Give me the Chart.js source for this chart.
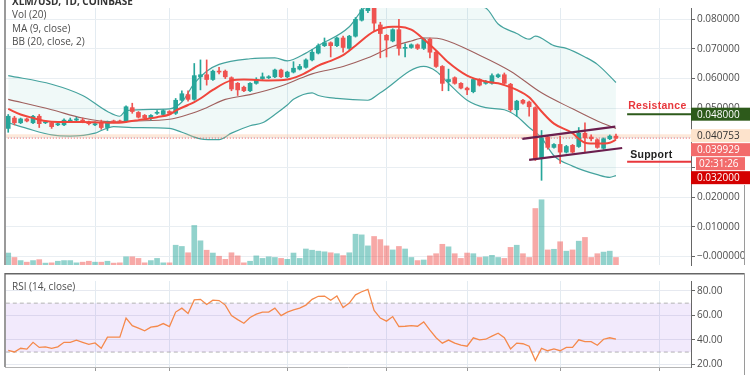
<!DOCTYPE html>
<html>
<head>
<meta charset="utf-8">
<script src="https://cdn.jsdelivr.net/npm/chart.js@4.4.1/dist/chart.umd.min.js"></script>
<style>
  html, body { margin: 0; padding: 0; background: #fff; }
  #wrap { position: relative; width: 750px; height: 375px; overflow: hidden; }
  #priceBox { position: absolute; left: 0; top: 0; }
  #rsiBox { position: absolute; left: 0; top: 273px; }
</style>
</head>
<body>
<div id="wrap">
  <div id="priceBox"><canvas id="price" width="750" height="273"></canvas></div>
  <div id="rsiBox"><canvas id="rsi" width="750" height="102"></canvas></div>
</div>
<script>
// ── XLM/USD 1D · candles, Vol, MA9, BB(20,2), RSI(14) ─────

const opens = [0.0432,0.0467,0.0451,0.0464,0.0451,0.0473,0.0451,0.0451,0.0444,0.0444,
  0.0457,0.0460,0.0460,0.0454,0.0444,0.0451,0.0435,0.0457,0.0457,0.0457,
  0.0502,0.0486,0.0476,0.0467,0.0483,0.0479,0.0489,0.0483,0.0527,0.0546,
  0.0530,0.0606,0.0613,0.0597,0.0625,0.0625,0.0603,0.0584,0.0571,0.0559,
  0.0584,0.0600,0.0603,0.0606,0.0629,0.0606,0.0622,0.0632,0.0638,0.0663,
  0.0686,0.0711,0.0721,0.0711,0.0737,0.0702,0.0743,0.0797,0.0829,0.0844,
  0.0781,0.0746,0.0727,0.0765,0.0702,0.0705,0.0714,0.0702,0.0733,0.0689,
  0.0641,0.0590,0.0603,0.0584,0.0568,0.0556,0.0597,0.0584,0.0584,0.0606,
  0.0613,0.0581,0.0495,0.0527,0.0521,0.0502,0.0330,0.0403,0.0368,0.0378,
  0.0352,0.0375,0.0371,0.0416,0.0403,0.0394,0.0365,0.0397,0.0406];

const highs = [0.0479,0.0473,0.0467,0.0467,0.0476,0.0479,0.0457,0.0454,0.0454,0.0464,
  0.0467,0.0470,0.0467,0.0457,0.0454,0.0460,0.0457,0.0460,0.0460,0.0508,
  0.0517,0.0489,0.0479,0.0479,0.0492,0.0495,0.0492,0.0533,0.0559,0.0559,
  0.0651,0.0663,0.0663,0.0629,0.0638,0.0629,0.0606,0.0587,0.0575,0.0587,
  0.0603,0.0619,0.0610,0.0632,0.0632,0.0625,0.0657,0.0648,0.0667,0.0698,
  0.0717,0.0737,0.0724,0.0740,0.0743,0.0746,0.0806,0.0854,0.0870,0.0863,
  0.0790,0.0749,0.0768,0.0800,0.0717,0.0717,0.0717,0.0737,0.0737,0.0692,
  0.0644,0.0632,0.0606,0.0587,0.0571,0.0600,0.0600,0.0594,0.0616,0.0616,
  0.0619,0.0584,0.0527,0.0530,0.0524,0.0505,0.0425,0.0406,0.0381,0.0406,
  0.0375,0.0378,0.0435,0.0451,0.0410,0.0397,0.0400,0.0410,0.0413];

const lows = [0.0419,0.0444,0.0448,0.0454,0.0448,0.0435,0.0448,0.0432,0.0441,0.0441,
  0.0454,0.0457,0.0451,0.0444,0.0441,0.0429,0.0425,0.0451,0.0451,0.0454,
  0.0483,0.0467,0.0464,0.0460,0.0479,0.0476,0.0479,0.0479,0.0524,0.0524,
  0.0527,0.0562,0.0578,0.0594,0.0616,0.0600,0.0559,0.0543,0.0556,0.0556,
  0.0581,0.0597,0.0600,0.0603,0.0603,0.0603,0.0619,0.0629,0.0635,0.0660,
  0.0683,0.0708,0.0673,0.0708,0.0689,0.0698,0.0740,0.0794,0.0822,0.0759,
  0.0670,0.0673,0.0724,0.0679,0.0673,0.0702,0.0698,0.0698,0.0670,0.0638,
  0.0559,0.0559,0.0581,0.0565,0.0546,0.0552,0.0575,0.0581,0.0581,0.0603,
  0.0581,0.0489,0.0473,0.0514,0.0473,0.0324,0.0257,0.0362,0.0365,0.0314,
  0.0349,0.0349,0.0368,0.0352,0.0390,0.0365,0.0362,0.0394,0.0397];

const closes = [0.0473,0.0451,0.0464,0.0457,0.0473,0.0448,0.0454,0.0438,0.0448,0.0460,
  0.0460,0.0464,0.0457,0.0448,0.0448,0.0435,0.0454,0.0454,0.0454,0.0505,
  0.0489,0.0470,0.0467,0.0476,0.0486,0.0492,0.0483,0.0527,0.0549,0.0530,
  0.0610,0.0613,0.0597,0.0625,0.0622,0.0606,0.0565,0.0562,0.0559,0.0584,
  0.0597,0.0606,0.0606,0.0629,0.0606,0.0622,0.0635,0.0641,0.0663,0.0689,
  0.0711,0.0721,0.0711,0.0737,0.0705,0.0743,0.0800,0.0832,0.0848,0.0787,
  0.0752,0.0730,0.0765,0.0702,0.0705,0.0714,0.0702,0.0733,0.0689,0.0641,
  0.0584,0.0597,0.0584,0.0568,0.0562,0.0597,0.0578,0.0590,0.0610,0.0613,
  0.0584,0.0495,0.0524,0.0517,0.0505,0.0330,0.0400,0.0368,0.0378,0.0352,
  0.0371,0.0352,0.0416,0.0400,0.0397,0.0368,0.0397,0.0406,0.039929];

// volumen (millones)
const volumes = [12.7,8,4.7,3,4.7,5.7,2,2.3,4,4.7,
  4.7,2.3,3,4,3,3,4,2,2.3,8.7,
  8.7,7,2.3,4.7,7,2.3,2.3,21,19.7,13,
  42,25.7,15.7,12.7,9.3,6,13,9.7,2.3,4,
  9.7,7,8.7,8,7,6,12.7,7,17,15.7,
  14.7,14,13,12,10,13,32.7,32,20.3,30.3,
  27,20.3,16,19.7,17,8,4.7,5.3,9.7,12,
  22,19.3,12,7,12.7,12,8,8.7,10.3,8,
  7,18.7,21,12,8,60,69.3,16,16.7,24.7,
  14.7,16,25.3,29.3,8,12,13.7,14.7,8];

// [índice de vela, precio]
const ma9 = [[0,0.0498],[2,0.0479],[4,0.0467],[6,0.0457],[8,0.0454],[12,0.0454],[15,0.0452],
  [17,0.0451],[19,0.0454],[21,0.0460],[24,0.0470],[26,0.0479],[27,0.0492],[29,0.0511],
  [30,0.0521],[31,0.0533],[33,0.0562],[36,0.0594],[38,0.0597],[42,0.0594],[45,0.0597],
  [47,0.0610],[49,0.0632],[50,0.0644],[52,0.0660],[54,0.0679],[56,0.0711],[59,0.0759],
  [62,0.0775],[63,0.0775],[65,0.0765],[67,0.0733],[69,0.0695],[71,0.0654],[74,0.0610],
  [77,0.0590],[79,0.0584],[80,0.0578],[82,0.0562],[84,0.0537],[86,0.0489],[88,0.0448],
  [91,0.0416],[92,0.0397],[93,0.0384],[95,0.0381],[97,0.0384],[98,0.0394]];

const bbUpper = [[0,0.0610],[7,0.0581],[12,0.0543],[16,0.0489],[18,0.0473],[19,0.0492],
  [26,0.0498],[28,0.0521],[30,0.0584],[32,0.0625],[34,0.0648],[39,0.0667],[43,0.0670],
  [45,0.0660],[48,0.0686],[50,0.0711],[55,0.0775],[57,0.0829],[59,0.0863],[63,0.0886],
  [66,0.0876],[70,0.0863],[74,0.0848],[77,0.0838],[79,0.0784],[82,0.0752],[84,0.0733],
  [85,0.0743],[88,0.0711],[90,0.0702],[93,0.0673],[95,0.0648],[98,0.0587]];

const bbBasis = [[0,0.0530],[7,0.0495],[12,0.0467],[17,0.0454],[20,0.0457],[26,0.0463],
  [29,0.0479],[32,0.0502],[35,0.0530],[39,0.0546],[44,0.0575],[47,0.0600],[49,0.0616],
  [54,0.0641],[58,0.0670],[62,0.0708],[65,0.0727],[67,0.0737],[68,0.0737],[70,0.0733],
  [76,0.0679],[81,0.0625],[86,0.0552],[91,0.0498],[95,0.0457],[98,0.0432]];

const bbLower = [[0,0.0451],[3,0.0432],[7,0.0410],[10,0.0406],[14,0.0416],[15,0.0425],
  [17,0.0438],[20,0.0435],[26,0.0432],[28,0.0419],[31,0.0397],[34,0.0394],[36,0.0416],
  [39,0.0441],[41,0.0451],[43,0.0479],[45,0.0511],[46,0.0530],[49,0.0552],[50,0.0543],
  [53,0.0533],[58,0.0527],[60,0.0552],[67,0.0641],[69,0.0625],[71,0.0584],[74,0.0527],
  [77,0.0502],[80,0.0495],[82,0.0473],[84,0.0435],[86,0.0400],[88,0.0340],[91,0.0305],
  [95,0.0276],[97,0.0267],[98,0.0273]];

const rsi = [31.3,30.1,33.1,32.4,38.0,33.8,34.3,33.1,34.3,38.0,
  38.0,39.8,38.0,36.3,37.5,33.1,42.2,42.2,42.2,57.8,
  51.6,49.5,47.4,50.4,51.1,53.3,50.9,62.7,65.9,61.5,
  72.6,73.1,68.9,72.4,72.1,68.4,59.8,56.5,53.6,58.3,
  61.0,62.7,62.7,65.9,59.8,62.7,64.4,65.9,68.4,73.1,
  75.6,75.8,72.4,75.8,66.4,70.1,76.8,79.3,81.3,64.0,
  57.8,55.3,59.0,50.9,51.1,51.6,51.1,54.6,47.9,41.7,
  37.3,39.8,37.3,35.6,34.8,41.7,40.0,40.5,43.0,45.4,
  41.7,32.6,37.3,36.8,34.8,23.2,33.1,31.1,32.6,31.1,
  33.8,33.8,40.0,38.5,38.5,35.6,40.5,41.7,40.5];

// canal dibujado + niveles
const channelUpper = [[82.9,0.0397],[97.9,0.0438]];
const channelLower = [[84.0,0.0326],[99.0,0.0366]];
const levelSpan    = [99.8, 111];
const resistance   = 0.048;
const support      = 0.032;
const markerPrice  = 0.040753;
const countdown    = '02:31:26';

const timeTicks  = [14, 26, 45, 61, 74, 89, 105];
const priceTicks = [0, 0.01, 0.02, 0.03, 0.04, 0.05, 0.06, 0.07, 0.08];
const rsiTicks   = [20, 40, 60, 80];
const rsiBand    = [70, 30];

// ── estilos ─────
const UP = '#26a69a', DOWN = '#ef5350';
const FONT = '"Open Sans", sans-serif';
const X_MIN = -0.52, X_MAX = 110.1;
const AXIS_W = 59;

const pts = arr => arr.map(([x, y]) => ({ x, y }));
const flat = (v) => [{ x: X_MIN - 1, y: v }, { x: X_MAX + 1, y: v }];
const isUp = i => closes[i] >= opens[i];
const lastClose = closes[closes.length - 1];

const xScale = (gridTicks) => ({
  type: 'linear', min: X_MIN, max: X_MAX, offset: false,
  afterBuildTicks: s => { s.ticks = timeTicks.map(v => ({ value: v })); },
  ticks: { display: false },
  grid: { color: '#e3ebf1', offset: false, drawTicks: gridTicks, tickLength: 4, tickColor: '#999' },
  border: { display: gridTicks, color: '#b5b5b5' },
});

function drawFrame(ctx, h) {
  ctx.strokeStyle = '#9a9a9a';
  ctx.lineWidth = 2;
  ctx.beginPath(); ctx.moveTo(5, 0); ctx.lineTo(5, h); ctx.stroke();
}

// ── panel de precio ─────
const priceDecor = {
  id: 'priceDecor',
  afterDraw(chart) {
    const { ctx, chartArea: a, scales: { x, y } } = chart;
    ctx.save();
    drawFrame(ctx, a.bottom);
    ctx.strokeStyle = '#9a9a9a'; ctx.lineWidth = 1;
    ctx.beginPath(); ctx.moveTo(744.5, 185); ctx.lineTo(744.5, a.bottom); ctx.stroke();

    // leyenda
    ctx.textBaseline = 'middle';
    ctx.fillStyle = '#333';
    ctx.font = 'bold 10px ' + FONT;
    ctx.fillText('XLM/USD, 1D, COINBASE', 12, 2);
    ctx.font = '10px ' + FONT;
    ctx.fillStyle = '#4d4d4d';
    ['Vol (20)', 'MA (9, close)', 'BB (20, close, 2)'].forEach((t, k) => ctx.fillText(t, 12, 15.5 + k * 13.5));

    // textos de niveles
    const lx = x.getPixelForValue(levelSpan[0]) + 1;
    ctx.font = 'bold 10.5px "Liberation Sans", sans-serif';
    ctx.letterSpacing = '0.3px';
    ctx.fillStyle = '#e8373c';
    ctx.fillText('Resistance', lx, y.getPixelForValue(resistance) - 8);
    ctx.fillStyle = '#222';
    ctx.fillText('Support', lx + 2, y.getPixelForValue(support) - 7);
    ctx.letterSpacing = '0px';

    // etiquetas del eje
    const boxes = [
      { v: resistance,  bg: '#2d5a1b', fg: '#fff' },
      { v: markerPrice, bg: '#fde3cc', fg: '#333' },
      { v: lastClose,   bg: '#f26b6b', fg: '#fff', sub: countdown },
      { v: support,     bg: '#d40000', fg: '#fff' },
    ];
    const H = 13;
    let prev = -Infinity;
    ctx.font = '10px ' + FONT;
    boxes.forEach(b => {
      const top = Math.max(y.getPixelForValue(b.v) - H / 2, prev + 1);
      ctx.fillStyle = b.bg;
      ctx.fillRect(a.right, top, 750 - a.right, H);
      ctx.fillStyle = b.fg;
      ctx.fillText(b.v.toFixed(6), a.right + 6, top + H / 2 + 0.5);
      prev = top + H;
      if (b.sub) {
        const t2 = prev + 1;
        ctx.fillStyle = b.bg;
        ctx.fillRect(a.right + 5, t2, 49, H);
        ctx.fillStyle = b.fg;
        ctx.fillText(b.sub, a.right + 8, t2 + H / 2 + 0.5);
        prev = t2 + H;
      }
    });
    ctx.restore();
  }
};

new Chart(document.getElementById('price'), {
  type: 'bar',
  data: {
    datasets: [
      { type: 'line', data: pts(bbUpper), borderColor: '#45a39e', borderWidth: 1.2, pointRadius: 0,
        cubicInterpolationMode: 'monotone', fill: '+1', backgroundColor: 'rgba(38,166,154,0.07)', order: 30 },
      { type: 'line', data: pts(bbLower), borderColor: '#45a39e', borderWidth: 1.2, pointRadius: 0,
        cubicInterpolationMode: 'monotone', fill: false, order: 29 },
      { type: 'line', data: pts(bbBasis), borderColor: '#a0605e', borderWidth: 1.1, pointRadius: 0,
        cubicInterpolationMode: 'monotone', fill: false, order: 28 },
      { type: 'bar', data: volumes.map((v, i) => ({ x: i, y: v })), yAxisID: 'yVol', grouped: false,
        barThickness: 5, backgroundColor: volumes.map((v, i) => isUp(i) ? 'rgba(38,166,154,0.5)' : 'rgba(239,83,80,0.5)'),
        order: 27 },
      { type: 'line', data: flat(markerPrice), borderColor: 'rgba(250,190,145,0.35)', borderWidth: 3,
        pointRadius: 0, fill: false, order: 26 },
      { type: 'line', data: flat(lastClose), borderColor: '#ef5350', borderWidth: 1, borderDash: [1, 2],
        pointRadius: 0, fill: false, order: 25 },
      { type: 'bar', data: lows.map((l, i) => ({ x: i, y: [l, highs[i]] })), grouped: false, barThickness: 1,
        backgroundColor: lows.map((l, i) => isUp(i) ? UP : DOWN), order: 20 },
      { type: 'bar', data: opens.map((o, i) => ({ x: i, y: [o, closes[i]] })), grouped: false, barThickness: 4,
        minBarLength: 1, backgroundColor: opens.map((o, i) => isUp(i) ? UP : DOWN), order: 19 },
      { type: 'line', data: pts(ma9), borderColor: '#f0463c', borderWidth: 2, pointRadius: 0,
        cubicInterpolationMode: 'monotone', fill: false, order: 10 },
      { type: 'line', data: pts(channelUpper), borderColor: '#6b1f4e', borderWidth: 2.2, pointRadius: 0, fill: false, order: 5 },
      { type: 'line', data: pts(channelLower), borderColor: '#6b1f4e', borderWidth: 2.2, pointRadius: 0, fill: false, order: 5 },
      { type: 'line', data: levelSpan.map(v => ({ x: v, y: resistance })), borderColor: '#2d5a1b', borderWidth: 2,
        pointRadius: 0, fill: false, order: 5 },
      { type: 'line', data: levelSpan.map(v => ({ x: v, y: support })), borderColor: '#e8373c', borderWidth: 2,
        pointRadius: 0, fill: false, order: 5 },
    ]
  },
  options: {
    responsive: false,
    animation: false,
    events: [],
    layout: { padding: { left: 5, right: 0, top: 0, bottom: 0 }, autoPadding: false },
    plugins: { legend: { display: false }, tooltip: { enabled: false } },
    scales: {
      x: { ...xScale(false), afterFit: s => { s.height = 0; } },
      y: {
        position: 'right', min: -0.00286, max: 0.08381,
        afterBuildTicks: s => { s.ticks = priceTicks.map(v => ({ value: v })); },
        afterFit: s => { s.width = AXIS_W; },
        ticks: { font: { family: FONT, size: 10 }, color: '#4d4d4d', padding: 2,
                 callback: v => v === 0 ? '\u22120.000000' : v.toFixed(6) },
        grid: { color: '#e9eef2', tickColor: '#666', tickLength: 4 },
        border: { color: '#666' },
      },
      yVol: { display: false, min: 0, max: 273 },
    }
  },
  plugins: [priceDecor]
});

// ── panel RSI ─────
const rsiDecor = {
  id: 'rsiDecor',
  afterDraw(chart) {
    const { ctx, chartArea: a } = chart;
    ctx.save();
    drawFrame(ctx, a.bottom);
    ctx.strokeStyle = '#666'; ctx.lineWidth = 1.5;
    ctx.beginPath(); ctx.moveTo(5, 0.75); ctx.lineTo(745, 0.75); ctx.stroke();
    ctx.strokeStyle = '#9a9a9a'; ctx.lineWidth = 1;
    ctx.beginPath(); ctx.moveTo(744.5, 0); ctx.lineTo(744.5, 102); ctx.stroke();
    ctx.fillStyle = '#4d4d4d';
    ctx.font = '10px ' + FONT;
    ctx.textBaseline = 'middle';
    ctx.fillText('RSI (14, close)', 12, 14);
    ctx.restore();
  }
};

new Chart(document.getElementById('rsi'), {
  type: 'line',
  data: {
    datasets: [
      { data: flat(rsiBand[0]), borderColor: '#b3b3b3', borderWidth: 1, borderDash: [4, 3], pointRadius: 0,
        fill: '+1', backgroundColor: 'rgba(152,80,230,0.12)', order: 3 },
      { data: flat(rsiBand[1]), borderColor: '#b3b3b3', borderWidth: 1, borderDash: [4, 3], pointRadius: 0,
        fill: false, order: 3 },
      { data: rsi.map((v, i) => ({ x: i, y: v })), borderColor: '#f5894b', borderWidth: 1.3, pointRadius: 0,
        fill: false, order: 1 },
    ]
  },
  options: {
    responsive: false,
    animation: false,
    events: [],
    layout: { padding: { left: 5, right: 0, top: 1, bottom: 0 }, autoPadding: false },
    plugins: { legend: { display: false }, tooltip: { enabled: false } },
    scales: {
      x: { ...xScale(true), afterFit: s => { s.height = 6; } },
      y: {
        position: 'right', min: 17.8, max: 88.1,
        afterBuildTicks: s => { s.ticks = rsiTicks.map(v => ({ value: v })); },
        afterFit: s => { s.width = AXIS_W; },
        ticks: { font: { family: FONT, size: 10 }, color: '#4d4d4d', padding: 2, callback: v => v.toFixed(2) },
        grid: { color: '#e6e9f0', tickColor: '#666', tickLength: 4 },
        border: { color: '#666' },
      },
    }
  },
  plugins: [rsiDecor]
});
</script>
</body>
</html>
